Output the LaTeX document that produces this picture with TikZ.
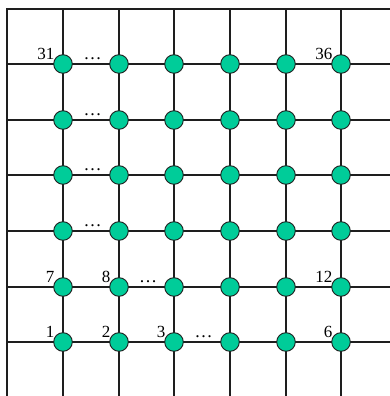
\documentclass[tikz,border=0pt]{standalone}
\usepackage{fontspec}
\setmainfont{Liberation Serif}
\usepackage{tikz}
\usetikzlibrary{positioning, calc}
\definecolor{NodeGreen}{RGB}{0, 204, 153}
\definecolor{LineDark}{RGB}{30, 30, 30}

\tikzset{
  vertex/.style={circle, fill=NodeGreen, draw=LineDark, line width=0.9pt,
    minimum size=18.6pt, inner sep=0pt},
  gridline/.style={draw=LineDark, line width=1.8pt},
  idx/.style={font=\fontsize{17}{17}\selectfont, inner sep=0pt, anchor=south east},
  gap/.style={font=\fontsize{18}{18}\selectfont, inner sep=0pt, anchor=base}
}

\begin{document}
\begin{tikzpicture}[x=1pt, y=1pt]
  \useasboundingbox (0,0) rectangle (390,396);

  % frame and grid ends
  \coordinate (sw) at (7,0);
  \coordinate (nw) at (7,387);
  \coordinate (ne) at (390,387);
  \foreach \k/\p in {1/63, 2/119, 3/174, 4/230, 5/286, 6/341} {
    \coordinate (n\k) at (\p,387);
    \coordinate (s\k) at (\p,0);
  }
  \foreach \k/\p in {1/54, 2/109, 3/165, 4/221, 5/276, 6/332} {
    \coordinate (w\k) at (7,\p);
    \coordinate (e\k) at (390,\p);
  }
  \draw[gridline] (sw) -- (nw) -- (ne);
  \foreach \k in {1,...,6} {
    \draw[gridline] (w\k) -- (e\k);
    \draw[gridline] (n\k) -- (s\k);
  }

  % vertices, numbered row by row from the bottom
  \foreach \r in {1,...,6} {
    \foreach \c in {1,...,6} {
      \pgfmathtruncatemacro{\id}{6*(\r-1)+\c}
      \node[vertex] (v\id) at (n\c |- w\r) {};
    }
  }

  % indices
  \foreach \id in {1,2,3,6,7,8,12,31,36} {
    \node[idx] (l\id) at ([shift={(-1.5,-3)}]v\id.north west) {\id};
  }

  % gaps
  \foreach \a/\b in {31/32, 25/26, 19/20, 13/14, 8/9, 3/4} {
    \node[gap] (d\a) at ($(v\a)!0.53!(v\b)+(0,4)$) {\ldots};
  }
\end{tikzpicture}
\end{document}
